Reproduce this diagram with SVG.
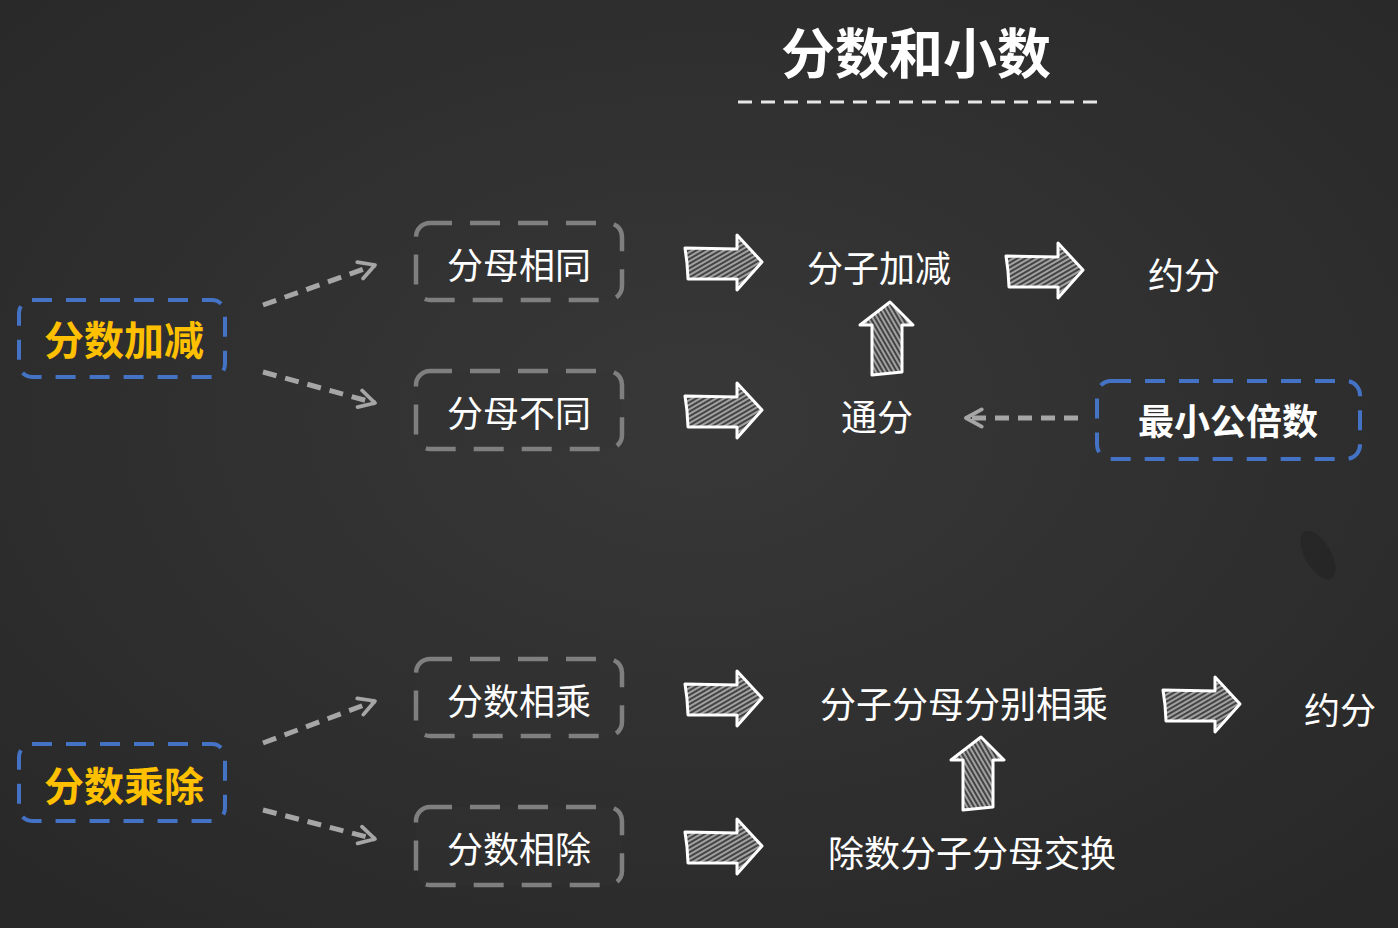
<svg xmlns="http://www.w3.org/2000/svg" width="1398" height="928" viewBox="0 0 1398 928">
<style>
text{font-family:"Noto Sans CJK SC","Noto Sans",sans-serif;}
.title{font-size:54px;font-weight:700;fill:#ffffff;text-anchor:middle;}
.key{font-size:40px;font-weight:700;fill:#ffc000;text-anchor:middle;}
.lbl{font-size:36px;fill:#ffffff;text-anchor:middle;}
.bold{font-size:36px;font-weight:700;fill:#ffffff;text-anchor:middle;}
.blue{fill:none;stroke:#4472c4;stroke-width:4;stroke-dasharray:20 14;}
.gray{fill:#333333;fill-opacity:0.35;stroke:#7f7f7f;stroke-width:4.5;stroke-dasharray:30 18;stroke-dashoffset:8;}
.dash{fill:none;stroke:#a6a6a6;stroke-width:5;stroke-dasharray:14 9;}
.hatchR{fill:url(#hR);stroke:#ffffff;stroke-width:3;stroke-linejoin:round;}
.hatchU{fill:url(#hU);stroke:#ffffff;stroke-width:3;stroke-linejoin:round;}
</style>
<defs>
<radialGradient id="bg" cx="50%" cy="45%" r="75%">
<stop offset="0" stop-color="#383838"/>
<stop offset="1" stop-color="#272727"/>
</radialGradient>
<pattern id="hR" width="4" height="4" patternUnits="userSpaceOnUse" patternTransform="rotate(-30)">
<rect width="4" height="4" fill="#444444"/>
<line x1="0" y1="1" x2="4" y2="1" stroke="#e0e0e0" stroke-width="1.2"/>
</pattern>
<pattern id="hU" width="4" height="4" patternUnits="userSpaceOnUse" patternTransform="rotate(60)">
<rect width="4" height="4" fill="#444444"/>
<line x1="0" y1="1" x2="4" y2="1" stroke="#e0e0e0" stroke-width="1.2"/>
</pattern>
<marker id="chev" viewBox="0 0 14 14" refX="12" refY="7" markerWidth="22" markerHeight="22" markerUnits="userSpaceOnUse" orient="auto">
<path d="M2,1.5 L12,7 L2,12.5" fill="none" stroke="#a6a6a6" stroke-width="2.4" stroke-linecap="round" stroke-linejoin="round"/>
</marker>
<path id="arrR" class="hatchR" d="M0,13 L52,14 L52,0 L77,27 L52,55 L52,44 L3,44 L2,28 Z"/>
<path id="arrU" class="hatchU" d="M30,0 L53,23 L42,23 L42,70 L12,73 L12,23 L0,23 Z"/>
</defs>

<g id="background">
<rect width="1398" height="928" fill="url(#bg)"/>
<ellipse cx="1318" cy="555" rx="13" ry="27" transform="rotate(-30 1318 555)" fill="#1e1e1e" opacity="0.45"/>
</g>

<g id="title">
<text class="title" x="916" y="74">分数和小数</text>
<line x1="738" y1="102" x2="1097" y2="102" stroke="#e6e6e6" stroke-width="3" stroke-dasharray="14 9"/>
</g>

<g id="node-add">
<rect class="blue" x="19" y="300" width="206" height="77" rx="13"/>
<text class="key" x="124" y="355">分数加减</text>
</g>
<g id="node-muldiv">
<rect class="blue" x="19" y="744" width="206" height="77" rx="13"/>
<text class="key" x="124" y="801">分数乘除</text>
</g>

<g id="node-same">
<rect class="gray" x="416" y="223" width="206" height="77" rx="14"/>
<text class="lbl" x="519" y="279">分母相同</text>
</g>
<g id="node-diff">
<rect class="gray" x="416" y="371" width="206" height="78" rx="14"/>
<text class="lbl" x="519" y="427">分母不同</text>
</g>
<g id="node-mul">
<rect class="gray" x="416" y="659" width="206" height="77" rx="14"/>
<text class="lbl" x="519" y="715">分数相乘</text>
</g>
<g id="node-div">
<rect class="gray" x="416" y="807" width="206" height="78" rx="14"/>
<text class="lbl" x="519" y="863">分数相除</text>
</g>

<g id="node-numadd"><text class="lbl" x="879" y="282">分子加减</text></g>
<g id="node-reduce1"><text class="lbl" x="1184" y="289">约分</text></g>
<g id="node-common"><text class="lbl" x="877" y="431">通分</text></g>
<g id="node-lcm">
<rect class="blue" x="1097" y="381" width="263" height="78" rx="14"/>
<text class="bold" x="1228" y="435">最小公倍数</text>
</g>
<g id="node-mulboth"><text class="lbl" x="964" y="718">分子分母分别相乘</text></g>
<g id="node-reduce2"><text class="lbl" x="1340" y="724">约分</text></g>
<g id="node-swap"><text class="lbl" x="972" y="867">除数分子分母交换</text></g>

<g id="connectors">
<line class="dash" x1="263" y1="305" x2="375" y2="265" marker-end="url(#chev)"/>
<line class="dash" x1="263" y1="372" x2="375" y2="403" marker-end="url(#chev)"/>
<line class="dash" x1="263" y1="743" x2="375" y2="701" marker-end="url(#chev)"/>
<line class="dash" x1="263" y1="810" x2="375" y2="839" marker-end="url(#chev)"/>
<line class="dash" x1="1078" y1="418" x2="966" y2="418" marker-end="url(#chev)"/>
<use href="#arrR" transform="translate(685,235)"/>
<use href="#arrR" transform="translate(685,383)"/>
<use href="#arrR" transform="translate(685,671)"/>
<use href="#arrR" transform="translate(685,819)"/>
<use href="#arrR" transform="translate(1006,243)"/>
<use href="#arrR" transform="translate(1163,677)"/>
<use href="#arrU" transform="translate(860,302)"/>
<use href="#arrU" transform="translate(951,737)"/>
</g>
</svg>
